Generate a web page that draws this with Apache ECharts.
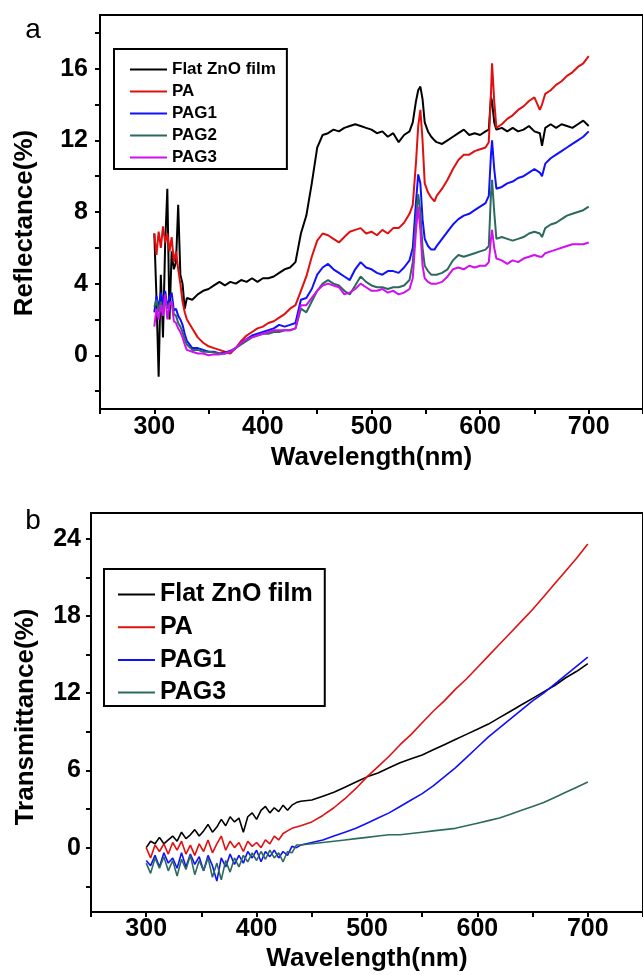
<!DOCTYPE html>
<html>
<head>
<meta charset="utf-8">
<script src="https://cdn.jsdelivr.net/npm/echarts@6/dist/echarts.min.js"></script>
<style>
  html, body { margin: 0; background: #fff; }
  #chart { width: 643px; height: 975px; }
</style>
</head>
<body>
<div id="chart"></div>
<script>
// ---- panel a: reflectance ----
const wlA = [
  300, 302, 304, 306, 308, 310, 312, 314, 316, 318, 320, 322, 324, 326, 328, 330,
  335, 340, 345, 350, 355, 360, 365, 370, 375, 380, 385, 390, 395, 400, 405, 410, 415, 420, 425, 430,
  435, 440, 445, 450, 455, 460, 465, 470, 475, 480, 485, 490, 495, 500, 505, 510, 515, 520, 525, 530, 535,
  538, 541, 543, 545, 547, 549, 552, 555, 558,
  560, 565, 570, 575, 580, 585, 590, 595, 600, 605,
  608, 610, 611, 613, 615,
  620, 625, 630, 635, 640, 645, 650, 655, 657, 660, 665, 670, 675, 680, 685, 690, 695, 700
]
const flatA = [
  6.8, 3.2, -1.2, 4.5, 1.0, 6.2, 9.3, 2.0, 5.8, 4.8, 5.2, 8.4, 4.5, 4.0, 2.6, 3.2,
  3.1, 3.4, 3.6, 3.7, 3.9, 4.1, 3.9, 4.1, 4.0, 4.2, 4.1, 4.3, 4.1, 4.3, 4.3, 4.4, 4.6, 4.8, 4.9, 5.2,
  6.8, 7.8, 9.6, 11.6, 12.3, 12.4, 12.6, 12.5, 12.7, 12.8, 12.9, 12.8, 12.7, 12.6, 12.4, 12.5, 12.2, 12.4, 11.9, 12.3, 12.5,
  13.0, 14.2, 14.8, 15.0, 14.3, 13.0, 12.5, 12.2, 12.0,
  11.9, 11.8, 12.0, 12.2, 12.4, 12.6, 12.3, 12.4, 12.3, 12.5,
  12.6, 14.4, 14.2, 13.0, 12.6,
  12.7, 12.5, 12.7, 12.5, 12.6, 12.8, 12.5, 12.4, 11.7, 12.7, 12.9, 12.7, 12.9, 12.8, 12.7, 12.9, 13.1, 12.8
]
const paA = [
  6.8, 5.6, 6.9, 6.0, 7.2, 6.3, 6.8, 5.8, 6.6, 5.2, 5.8, 4.8, 4.0, 3.0, 2.4, 2.0,
  1.5, 1.0, 0.7, 0.5, 0.4, 0.3, 0.2, 0.1, 0.4, 0.8, 1.1, 1.3, 1.5, 1.6, 1.8, 1.9, 2.1, 2.3, 2.6, 2.8,
  3.6, 4.4, 5.5, 6.4, 6.8, 6.7, 6.5, 6.3, 6.6, 6.9, 7.0, 7.1, 6.8, 6.9, 6.7, 7.0, 6.8, 7.1, 7.1, 7.4, 7.9,
  8.4, 10.8, 12.8, 13.7, 12.0, 9.6, 9.1, 8.8, 8.6,
  8.9, 9.3, 9.8, 10.4, 10.9, 11.2, 11.2, 11.4, 11.5, 11.6,
  11.9, 14.6, 16.3, 14.2, 12.7,
  12.9, 13.2, 13.4, 13.7, 13.9, 14.2, 14.4, 13.7, 14.0, 14.6, 14.8, 15.1, 15.3, 15.6, 15.8, 16.1, 16.3, 16.7
]
const pag1A = [
  2.4, 3.3, 2.6, 3.5, 2.8, 3.6, 2.7, 3.2, 3.5, 2.5, 2.6, 2.2, 2.0, 1.7, 1.2, 0.8,
  0.4, 0.4, 0.3, 0.2, 0.2, 0.1, 0.15, 0.25, 0.4, 0.7, 0.9, 1.1, 1.2, 1.3, 1.4, 1.5, 1.7, 1.6, 1.7, 1.8,
  3.1, 3.2, 3.7, 4.5, 4.9, 5.1, 4.8, 4.6, 4.4, 4.2, 4.8, 5.2, 4.9, 4.8, 4.6, 4.5, 4.7, 4.7, 4.6, 4.9, 5.3,
  6.0, 8.6, 10.1, 9.6, 7.6, 6.5, 6.1, 5.9, 5.9,
  6.1, 6.5, 6.9, 7.3, 7.6, 7.8, 7.9, 8.1, 8.3, 8.5,
  8.9, 11.2, 12.0, 10.4, 9.3,
  9.4, 9.6, 9.7, 9.9, 10.0, 10.2, 10.4, 10.2, 10.0, 10.7, 11.0, 11.2, 11.4, 11.6, 11.8, 12.0, 12.2, 12.5
]
const pag2A = [
  2.7, 3.1, 2.4, 3.0, 2.5, 3.2, 2.6, 2.9, 3.0, 2.3, 2.2, 1.8, 1.6, 1.3, 0.9, 0.6,
  0.3, 0.3, 0.2, 0.2, 0.15, 0.1, 0.1, 0.2, 0.4, 0.6, 0.8, 1.0, 1.1, 1.2, 1.2, 1.3, 1.3, 1.4, 1.4, 1.5,
  2.6, 2.4, 3.0, 3.6, 4.0, 4.2, 4.0, 3.9, 3.6, 3.4, 3.9, 4.4, 4.1, 3.9, 3.8, 3.8, 3.7, 3.8, 3.8, 3.9, 4.2,
  5.2, 7.6, 9.0, 8.0, 6.0, 5.0, 4.7, 4.5, 4.5,
  4.5, 4.6, 4.8, 5.3, 5.6, 5.5, 5.6, 5.7, 5.8, 5.9,
  6.1, 9.0, 9.8, 8.0, 6.5,
  6.6, 6.5, 6.4, 6.5, 6.6, 6.8, 6.9, 6.8, 6.6, 7.1, 7.3, 7.4, 7.6, 7.8, 7.9, 8.0, 8.1, 8.3
]
const pag3A = [
  1.6, 2.6, 2.0, 2.8, 2.2, 3.4, 2.0, 2.8, 3.0, 1.9, 1.8, 1.5, 1.3, 1.0, 0.6, 0.3,
  0.2, 0.1, 0.1, 0.0, 0.05, 0.05, 0.1, 0.2, 0.4, 0.7, 0.9, 1.0, 1.1, 1.2, 1.3, 1.4, 1.4, 1.4, 1.4, 1.5,
  2.8, 2.8, 3.2, 3.6, 3.9, 4.0, 3.9, 3.8, 3.4, 3.5, 3.7, 4.0, 3.8, 3.6, 3.6, 3.7, 3.5, 3.6, 3.4, 3.5, 3.7,
  4.3, 7.0, 8.3, 7.0, 5.0, 4.3, 4.1, 4.0, 4.0,
  4.0, 4.1, 4.4, 4.8, 4.9, 4.8, 5.0, 4.9, 5.0, 5.0,
  5.2, 6.5, 7.0, 6.0, 5.4,
  5.3, 5.1, 5.3, 5.2, 5.4, 5.5, 5.6, 5.5, 5.5, 5.7, 5.8, 5.9, 6.0, 6.1, 6.2, 6.2, 6.2, 6.3
]

// ---- panel b: transmittance ----
const wlB = [
  300, 304, 308, 312, 316, 320, 324, 328, 332, 336, 340, 344, 348, 352, 356, 360, 364, 368,
  372, 376, 380, 384, 388, 392, 396, 400, 404, 408, 412, 416, 420, 424, 428, 432, 436, 440,
  450, 460, 470, 480, 490, 500, 510, 520, 530, 540, 550, 560, 570, 580, 590, 600, 610, 620,
  630, 640, 650, 660, 670, 680, 690, 700
]
const flatB = [
  0.0, 0.5, 0.3, 0.8, 0.3, 0.6, 0.9, 0.5, 1.2, 0.7, 1.0, 1.4, 0.9, 1.3, 1.8, 1.2, 1.6, 2.2,
  1.7, 2.4, 2.0, 2.3, 1.2, 2.4, 2.7, 2.2, 2.9, 3.2, 2.7, 3.1, 2.8, 3.3, 2.9, 3.3, 3.5, 3.6,
  3.7, 4.0, 4.3, 4.7, 5.1, 5.5, 5.8, 6.2, 6.6, 6.9, 7.2, 7.6, 8.0, 8.4, 8.8, 9.2, 9.6, 10.1,
  10.6, 11.1, 11.6, 12.1, 12.6, 13.2, 13.7, 14.3
]
const paB = [
  0.0, -0.8, 0.2, -0.3, 0.3, -0.5, 0.4, -0.2, 0.5, -0.5, 0.2, -0.6, 0.3, -0.3, 0.6, -0.4, 0.3, 0.9,
  -0.2, 0.5, 0.0, 0.4, -0.3, 0.5, 0.1, 0.4, 0.0, 0.6, 0.3, 0.9, 0.6, 1.1, 1.3, 1.5, 1.6, 1.7,
  2.0, 2.5, 3.1, 3.8, 4.6, 5.5, 6.3, 7.1, 8.0, 8.8, 9.7, 10.6, 11.4, 12.3, 13.1, 14.0, 14.9, 15.8,
  16.7, 17.6, 18.5, 19.5, 20.5, 21.5, 22.5, 23.6
]
const pag1B = [
  -1.0, -1.4, -0.6, -1.5, -0.4, -1.2, -0.8, -1.6, -0.4, -1.5, -0.5, -1.3, -0.7, -1.8, -0.6, -1.4, -2.6, -0.8,
  -1.5, -0.5, -1.3, -0.6, -1.2, -0.3, -0.8, -0.2, -1.1, -0.3, -0.7, -0.2, -0.8, -0.3, -0.6, 0.1, 0.0, 0.2,
  0.4, 0.6, 0.9, 1.2, 1.5, 1.9, 2.3, 2.7, 3.2, 3.7, 4.2, 4.8, 5.5, 6.2, 7.0, 7.8, 8.6, 9.3,
  10.0, 10.7, 11.4, 12.0, 12.7, 13.4, 14.1, 14.8
]
const pag3B = [
  -1.2, -2.0, -0.8, -1.6, -0.7, -1.8, -1.0, -2.2, -0.9, -1.7, -0.6, -2.1, -1.0, -1.8, -0.8, -2.3, -1.2, -2.5,
  -1.0, -1.9, -0.8, -1.5, -0.6, -1.1, -0.4, -1.0, -0.3, -0.9, -0.2, -0.8, -0.4, -1.1, -0.3, -0.4, 0.2, 0.2,
  0.3, 0.4, 0.5, 0.6, 0.7, 0.8, 0.9, 1.0, 1.0, 1.1, 1.2, 1.3, 1.4, 1.5, 1.7, 1.9, 2.1, 2.3,
  2.6, 2.9, 3.2, 3.5, 3.9, 4.3, 4.7, 5.1
]

// tick positions and labels
const xTicksA = [250, 300, 350, 400, 450, 500, 550, 600, 650, 700, 750]
const xLabelsA = [300, 400, 500, 600, 700]
const yTicksA = [-2, 0, 2, 4, 6, 8, 10, 12, 14, 16, 18]
const yLabelsA = [0, 4, 8, 12, 16]
const yTicksB = [-3, 0, 3, 6, 9, 12, 15, 18, 21, 24]
const yLabelsB = [0, 6, 12, 18, 24]

const namesA = ['Flat ZnO film', 'PA', 'PAG1', 'PAG2', 'PAG3']
const colorsA = ['#000000', '#e01010', '#1010ff', '#2c6a5e', '#d010f0']
const namesB = ['Flat ZnO film', 'PA', 'PAG1', 'PAG3']
const colorsB = ['#000000', '#e01010', '#1010ff', '#2c6a5e']

const FONT = '"Liberation Sans", Arial, sans-serif'
const chart = echarts.init(document.getElementById('chart'))

const pairs = (xs, ys) => xs.map((x, i) => [x, ys[i]])

const xAxisOf = (gridIndex, labelMargin, nameGap) => ({
  type: 'value',
  gridIndex,
  min: 250,
  max: 750,
  interval: 50,
  name: 'Wavelength(nm)',
  nameLocation: 'middle',
  nameGap,
  nameTextStyle: { fontFamily: FONT, fontWeight: 'bold', fontSize: 26, color: '#000' },
  axisLine: { onZero: false, lineStyle: { color: '#000', width: 2 } },
  axisTick: { inside: false, length: 5, lineStyle: { color: '#000', width: 2 }, customValues: xTicksA },
  axisLabel: {
    customValues: xLabelsA,
    margin: labelMargin,
    fontFamily: FONT, fontWeight: 'bold', fontSize: 25, color: '#000'
  },
  splitLine: { show: false }
})

const yAxisOf = (gridIndex, min, max, ticks, labels, margin) => ({
  type: 'value',
  gridIndex,
  min,
  max,
  axisLine: { show: true, onZero: false, lineStyle: { color: '#000', width: 2 } },
  axisTick: { show: true, inside: false, length: 5, lineStyle: { color: '#000', width: 2 }, customValues: ticks },
  axisLabel: {
    customValues: labels,
    margin,
    fontFamily: FONT, fontWeight: 'bold', fontSize: 25, color: '#000'
  },
  splitLine: { show: false }
})

const seriesA = [flatA, paA, pag1A, pag2A, pag3A].map((ys, i) => ({
  name: namesA[i],
  type: 'line',
  xAxisIndex: 0,
  yAxisIndex: 0,
  data: pairs(wlA, ys),
  showSymbol: false,
  lineStyle: { color: colorsA[i], width: 2 },
  itemStyle: { color: colorsA[i] }
}))

// bottom panel series get a trailing space so legend colours stay separate
const seriesB = [flatB, paB, pag1B, pag3B].map((ys, i) => ({
  name: namesB[i] + ' ',
  type: 'line',
  xAxisIndex: 1,
  yAxisIndex: 1,
  data: pairs(wlB, ys),
  showSymbol: false,
  lineStyle: { color: colorsB[i], width: 1.6 },
  itemStyle: { color: colorsB[i] }
}))

const option = {
  animation: false,
  backgroundColor: '#fff',
  grid: [
    { left: 100, top: 15, width: 553, height: 394, show: true, borderColor: '#000', borderWidth: 2 },
    { left: 91, top: 513, width: 560, height: 399, show: true, borderColor: '#000', borderWidth: 2 }
  ],
  xAxis: [xAxisOf(0, 6, 36), xAxisOf(1, 5, 34)],
  yAxis: [
    yAxisOf(0, -3, 19, yTicksA, yLabelsA, 12),
    yAxisOf(1, -5, 26, yTicksB, yLabelsB, 10)
  ],
  legend: [
    {
      left: 114, top: 49, orient: 'vertical',
      padding: [12, 11, 3, 16],
      borderColor: '#000', borderWidth: 2, borderRadius: 0,
      itemWidth: 37, itemHeight: 2, itemGap: 5, icon: 'rect',
      selectedMode: false,
      textStyle: { fontFamily: FONT, fontWeight: 'bold', fontSize: 17, lineHeight: 17, color: '#000' },
      data: namesA.map((n, i) => ({ name: n, itemStyle: { color: colorsA[i] } }))
    },
    {
      left: 104, top: 569, orient: 'vertical',
      padding: [13, 12, 1, 14],
      borderColor: '#000', borderWidth: 2, borderRadius: 0,
      itemWidth: 37, itemHeight: 2, itemGap: 7.7, icon: 'rect',
      selectedMode: false,
      textStyle: { fontFamily: FONT, fontWeight: 'bold', fontSize: 25, lineHeight: 25, color: '#000' },
      formatter: n => n.trim(),
      data: namesB.map((n, i) => ({ name: n + ' ', itemStyle: { color: colorsB[i] } }))
    }
  ],
  graphic: [
    { type: 'text', x: 33, y: 30, style: { text: 'a', font: '28px ' + FONT, fill: '#000', textAlign: 'center', textVerticalAlign: 'middle' } },
    { type: 'text', x: 33, y: 521, style: { text: 'b', font: '28px ' + FONT, fill: '#000', textAlign: 'center', textVerticalAlign: 'middle' } },
    { type: 'text', x: 25, y: 223, rotation: Math.PI / 2, style: { text: 'Reflectance(%)', font: 'bold 26px ' + FONT, fill: '#000', textAlign: 'center', textVerticalAlign: 'middle' } },
    { type: 'text', x: 26, y: 717, rotation: Math.PI / 2, style: { text: 'Transmittance(%)', font: 'bold 26px ' + FONT, fill: '#000', textAlign: 'center', textVerticalAlign: 'middle' } }
  ],
  series: seriesA.concat(seriesB)
}

chart.setOption(option)
</script>
</body>
</html>
